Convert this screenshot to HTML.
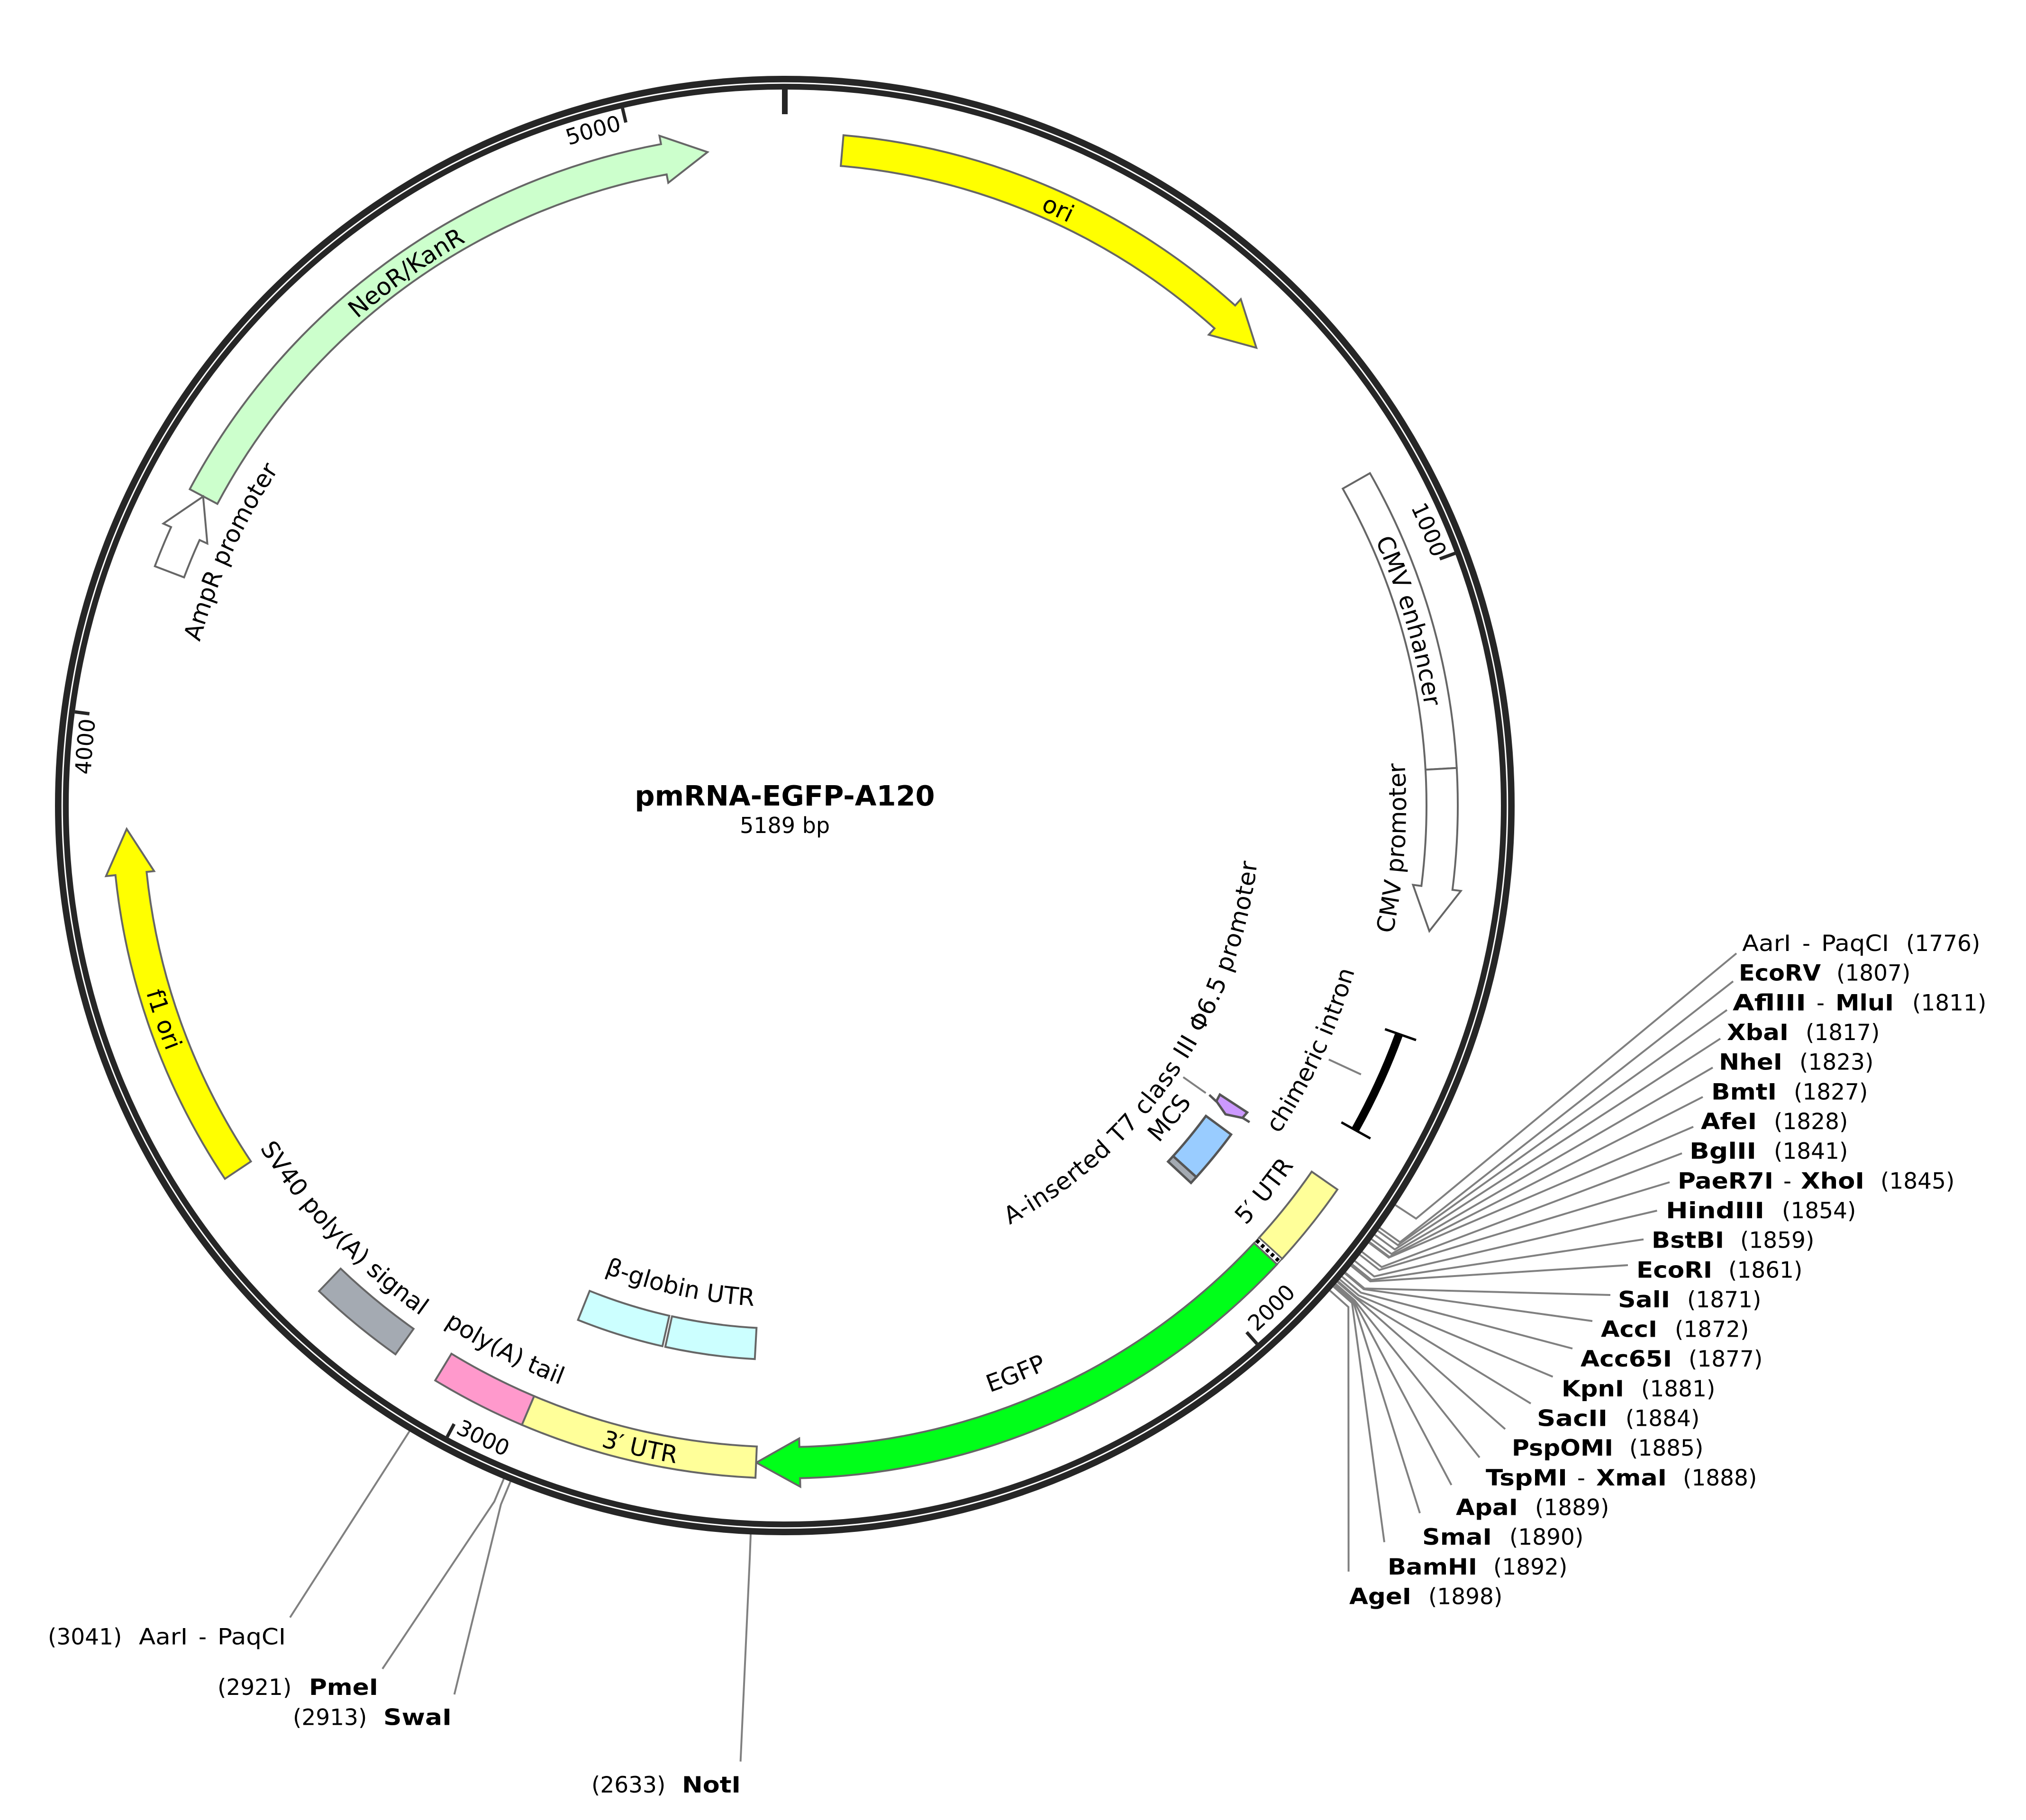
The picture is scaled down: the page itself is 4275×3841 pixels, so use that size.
<!DOCTYPE html>
<html><head><meta charset="utf-8"><title>pmRNA-EGFP-A120</title>
<style>html,body{margin:0;padding:0;background:#fff}svg{display:block}
text{font-family:"DejaVu Sans","Liberation Sans",sans-serif;font-size:47px;fill:#000}
.b{font-weight:bold}
.f{stroke:#666;stroke-width:4;stroke-linejoin:miter}
.g{stroke:#555;stroke-width:5}
.l{fill:none;stroke:#808080;stroke-width:4}
.t{stroke:#262626;stroke-width:7}
.c{text-anchor:middle;font-size:50.5px}
.n{font-size:46px}
</style></head><body>
<svg xmlns="http://www.w3.org/2000/svg" width="4275" height="3841" viewBox="0 0 4275 3841">
<defs>
<path id="w1368" d="M1656,332A1368,1368 0 1 1 1656,3068A1368,1368 0 1 1 1656,332"/>
<path id="w1367" d="M1656,333A1367,1367 0 1 1 1656,3067A1367,1367 0 1 1 1656,333"/>
<path id="w1366" d="M1656,334A1366,1366 0 1 1 1656,3066A1366,1366 0 1 1 1656,334"/>
<path id="w1282" d="M1656,418A1282,1282 0 1 1 1656,2982A1282,1282 0 1 1 1656,418"/>
<path id="w1463" d="M1656,237A1463,1463 0 1 1 1656,3163A1463,1463 0 1 1 1656,237"/>
<path id="w1466" d="M1656,234A1466,1466 0 1 1 1656,3166A1466,1466 0 1 1 1656,234"/>
<path id="c1311" d="M1656,389A1311,1311 0 1 0 1656,3011A1311,1311 0 1 0 1656,389"/>
<path id="c1004" d="M1656,696A1004,1004 0 1 0 1656,2704A1004,1004 0 1 0 1656,696"/>
<path id="c1252" d="M1656,448A1252,1252 0 1 0 1656,2952A1252,1252 0 1 0 1656,448"/>
<path id="c1063" d="M1656,637A1063,1063 0 1 0 1656,2763A1063,1063 0 1 0 1656,637"/>
<path id="c1316" d="M1656,384A1316,1316 0 1 0 1656,3016A1316,1316 0 1 0 1656,384"/>
<path id="c1492" d="M1656,208A1492,1492 0 1 0 1656,3192A1492,1492 0 1 0 1656,208"/>
<path id="c1312" d="M1656,388A1312,1312 0 1 0 1656,3012A1312,1312 0 1 0 1656,388"/>
<path id="c1407" d="M1656,293A1407,1407 0 1 0 1656,3107A1407,1407 0 1 0 1656,293"/>
<path id="c1058" d="M1656,642A1058,1058 0 1 0 1656,2758A1058,1058 0 1 0 1656,642"/>
<path id="c1495" d="M1656,205A1495,1495 0 1 0 1656,3195A1495,1495 0 1 0 1656,205"/>
<path id="c1404" d="M1656,296A1404,1404 0 1 0 1656,3104A1404,1404 0 1 0 1656,296"/>
<path id="c1323" d="M1656,377A1323,1323 0 1 0 1656,3023A1323,1323 0 1 0 1656,377"/>
</defs>
<rect width="4275" height="3841" fill="#fff"/>

<!-- leader lines -->
<polyline class="l" points="2944.5,2543.3 2988,2571.8 3664,2012"/>
<polyline class="l" points="2911.7,2591.5 2954.1,2621.6 3657,2071"/>
<polyline class="l" points="2907.4,2597.5 2949.7,2627.8 3644,2131.5"/>
<polyline class="l" points="2901.1,2606.3 2943.1,2636.9 3630,2192"/>
<polyline class="l" points="2894.3,2615.5 2936.1,2646.4 3614,2253"/>
<polyline class="l" points="2890,2621.4 2931.7,2652.5 3593,2315"/>
<polyline class="l" points="2888.8,2622.9 2930.4,2654.1 3573,2378"/>
<polyline class="l" points="2874.1,2642.2 2915.3,2674 3549,2434"/>
<polyline class="l" points="2869.5,2648.2 2910.5,2680.2 3523,2495"/>
<polyline class="l" points="2859,2661.4 2899.7,2693.9 3496.5,2555"/>
<polyline class="l" points="2853.4,2668.5 2893.8,2701.2 3468,2615.6"/>
<polyline class="l" points="2851,2671.4 2891.4,2704.2 3435,2670"/>
<polyline class="l" points="2839,2685.9 2879,2719.2 3398,2733"/>
<polyline class="l" points="2837.8,2687.4 2877.7,2720.8 3360,2788"/>
<polyline class="l" points="2831.9,2694.4 2871.7,2728 3318,2846"/>
<polyline class="l" points="2827,2700.1 2866.6,2733.8 3276.5,2905.5"/>
<polyline class="l" points="2823.5,2704.2 2862.9,2738.1 3230,2962"/>
<polyline class="l" points="2822.2,2705.8 2861.6,2739.7 3176,3016"/>
<polyline class="l" points="2818.7,2709.8 2858,2743.9 3122,3076"/>
<polyline class="l" points="2817.5,2711.2 2856.7,2745.3 3062.6,3134"/>
<polyline class="l" points="2816.2,2712.7 2855.4,2746.9 2996,3193.4"/>
<polyline class="l" points="2813.8,2715.5 2852.9,2749.8 2921,3254.6"/>
<polyline class="l" points="2806.4,2723.8 2845.2,2758.4 2845.6,3316.8"/>
<polyline class="l" points="864,3020.6 612,3413.6"/>
<polyline class="l" points="1063,3121 1043,3169 807,3522"/>
<polyline class="l" points="1077,3127 1057,3175 958.7,3576"/>
<polyline class="l" points="1584,3238 1582,3290 1562.6,3717.6"/>
<line class="l" x1="2803.8" y1="2236" x2="2871.8" y2="2267.5"/>
<line class="l" x1="2496.7" y1="2273.3" x2="2544.3" y2="2306.7"/>

<!-- backbone -->
<circle cx="1656" cy="1700" r="1525.5" fill="none" stroke="#262626" stroke-width="29"/>
<circle cx="1656" cy="1700" r="1524.8" fill="none" stroke="#fff" stroke-width="3"/>
<line x1="1656" y1="187" x2="1656" y2="241" stroke="#262626" stroke-width="12"/>
<line class="t" x1="3070.2" y1="1167.7" x2="3038" y2="1179.5"/>
<line class="t" x1="2652.3" y1="2836" x2="2630.5" y2="2811.5"/>
<line class="t" x1="943.6" y1="3032.5" x2="958.2" y2="3005.2"/>
<line class="t" x1="158" y1="1502.4" x2="188.7" y2="1506.4"/>
<line class="t" x1="1313.5" y1="228.3" x2="1320.6" y2="258.5"/>

<!-- features -->
<path class="f" fill="#ffff00" d="M1779.8,285.4A1420,1420 0 0 1 2606.2,644.7L2618.2,631.4L2651,734L2550.6,706.4L2562.7,693A1355,1355 0 0 0 1774.1,350.2Z"/>
<path class="f" fill="#ccffcc" d="M400.4,1032.4A1422,1422 0 0 1 1394.8,304.2L1391.5,286.5L1493,321L1410.1,385.8L1406.7,368.1A1355,1355 0 0 0 458.7,1063.4Z"/>
<path class="f" fill="#fff" d="M326.7,1195A1422,1422 0 0 1 361,1112.4L344.6,1105L428.6,1047.8L437.5,1147.1L421.1,1139.7A1356,1356 0 0 0 388.4,1218.5Z"/>
<path class="f" fill="#fff" d="M2890.7,998.6A1420,1420 0 0 1 3073.8,1620.7L3007.9,1624.4A1354,1354 0 0 0 2833.3,1031.2Z"/>
<path class="f" fill="#fff" d="M3073.8,1620.7A1420,1420 0 0 1 3064.8,1878L3082.6,1880.2L3016,1965L2981.5,1867.4L2999.3,1869.7A1354,1354 0 0 0 3007.9,1624.4Z"/>
<path class="f" fill="#ffff99" d="M2822,2510.4A1420,1420 0 0 1 2705.4,2656.6L2656.7,2612.1A1354,1354 0 0 0 2767.8,2472.7Z"/>
<path fill="#fff" stroke="#666" stroke-width="3" d="M2705.4,2656.6L2694.5,2668.4L2646.2,2623.4L2656.7,2612.1Z"/>
<line x1="2651.5" y1="2617.8" x2="2700" y2="2662.5" stroke="#000" stroke-width="8" stroke-dasharray="7 7"/>
<path class="f" fill="#00ff19" d="M2694.5,2668.4A1420,1420 0 0 1 1688.2,3119.6L1688.6,3137.6L1596,3086.7L1686.3,3035.7L1686.7,3053.6A1354,1354 0 0 0 2646.2,2623.4Z"/>
<path class="f" fill="#ffff99" d="M1594.1,3118.7A1420,1420 0 0 1 1101.2,3007.1L1127,2946.4A1354,1354 0 0 0 1596.9,3052.7Z"/>
<path class="f" fill="#ff99cc" d="M1101.2,3007.1A1420,1420 0 0 1 918.3,2913.3L952.6,2856.9A1354,1354 0 0 0 1127,2946.4Z"/>
<path class="f" fill="#a4aab2" d="M834.5,2858.2A1420,1420 0 0 1 673.2,2724.9L718.8,2677.3A1354,1354 0 0 0 872.7,2804.4Z"/>
<path class="f" fill="#ffff00" d="M474.6,2487.9A1420,1420 0 0 1 243.6,1847L223.7,1849L267.3,1749.4L325.2,1838.5L309.3,1840.1A1354,1354 0 0 0 529.5,2451.2Z"/>
<path class="f" fill="#ccffff" d="M1592.7,2868.3A1170,1170 0 0 1 1403.8,2842.5L1418,2778A1104,1104 0 0 0 1596.3,2802.4Z"/>
<path class="f" fill="#ccffff" d="M1397.8,2841.1A1170,1170 0 0 1 1219.6,2785.6L1244.2,2724.3A1104,1104 0 0 0 1412.3,2776.8Z"/>
<path class="g" fill="#a4aab2" d="M2524.4,2484.1L2513.1,2496.4L2464.7,2451.5L2475.4,2439.9Z"/>
<path class="g" fill="#99ccff" d="M2597.7,2394.3A1170,1170 0 0 1 2524.4,2484.1L2475.4,2439.9A1104,1104 0 0 0 2544.6,2355.1Z"/>
<polygon class="g" fill="#cc99ff" points="2574,2310 2631.7,2347.7 2621.7,2359.3 2586,2351.7 2566.7,2324"/>
<line x1="2551.7" y1="2310.7" x2="2567" y2="2325" stroke="#555" stroke-width="5"/>
<line x1="2621" y1="2358.5" x2="2636.7" y2="2368.3" stroke="#555" stroke-width="5"/>
<path d="M2951.4,2184.6A1384,1384 0 0 1 2860,2383.6" fill="none" stroke="#000" stroke-width="17"/>
<line x1="2922.4" y1="2172" x2="2988" y2="2195" stroke="#000" stroke-width="5"/>
<line x1="2830.4" y1="2368.6" x2="2891.7" y2="2402.7" stroke="#000" stroke-width="5"/>

<!-- curved labels -->
<text class="c"><textPath href="#w1368" startOffset="6.833%">ori</textPath></text>
<text class="c"><textPath href="#w1367" startOffset="90.17%">NeoR/KanR</textPath></text>
<text class="c"><textPath href="#w1366" startOffset="20.42%">CMV enhancer</textPath></text>
<text class="c"><textPath href="#w1282" startOffset="81.83%">AmpR promoter</textPath></text>
<text class="c n"><textPath href="#w1463" startOffset="18.56%">1000</textPath></text>
<text class="c n"><textPath href="#w1466" startOffset="95.6%">5000</textPath></text>
<text class="c n"><textPath href="#w1466" startOffset="76.34%">4000</textPath></text>
<text class="c"><textPath href="#c1311" startOffset="73.89%">CMV promoter</textPath></text>
<text class="c" style="letter-spacing:1px"><textPath href="#c1004" startOffset="65.47%">A-inserted T7 class III Φ6.5 promoter</textPath></text>
<text class="c"><textPath href="#c1252" startOffset="68.08%">chimeric intron</textPath></text>
<text class="c"><textPath href="#c1063" startOffset="64.14%">MCS</textPath></text>
<text class="c"><textPath href="#c1316" startOffset="64.22%">5′ UTR</textPath></text>
<text class="c n"><textPath href="#c1492" startOffset="62.25%">2000</textPath></text>
<text class="c"><textPath href="#c1312" startOffset="56.14%">EGFP</textPath></text>
<text class="c"><textPath href="#c1407" startOffset="46.47%">3′ UTR</textPath></text>
<text class="c"><textPath href="#c1311" startOffset="42.44%">poly(A) tail</textPath></text>
<text class="c"><textPath href="#c1058" startOffset="46.58%">β-globin UTR</textPath></text>
<text class="c n"><textPath href="#c1495" startOffset="42.92%">3000</textPath></text>
<text class="c"><textPath href="#c1404" startOffset="30.28%">f1 ori</textPath></text>
<text class="c"><textPath href="#c1323" startOffset="37.17%">SV40 poly(A) signal</textPath></text>

<!-- title -->
<text x="1656" y="1700" class="c b" style="font-size:59px">pmRNA-EGFP-A120</text>
<text x="1656" y="1758" class="c" style="font-size:46px">5189 bp</text>

<!-- site labels right -->
<text x="3676" y="2007" textLength="103" lengthAdjust="spacingAndGlyphs">AarI</text><text x="3803" y="2007">-</text><text x="3843" y="2007" textLength="143" lengthAdjust="spacingAndGlyphs">PaqCI</text><text x="4022" y="2007">(1776)</text>
<text x="3669" y="2069.7" class="b" textLength="173" lengthAdjust="spacingAndGlyphs">EcoRV</text><text x="3875" y="2069.7">(1807)</text>
<text x="3656" y="2132.3" class="b" textLength="155" lengthAdjust="spacingAndGlyphs">AflIII</text><text x="3833" y="2132.3">-</text><text x="3873" y="2132.3" class="b" textLength="123" lengthAdjust="spacingAndGlyphs">MluI</text><text x="4035" y="2132.3">(1811)</text>
<text x="3644" y="2195" class="b" textLength="130" lengthAdjust="spacingAndGlyphs">XbaI</text><text x="3810" y="2195">(1817)</text>
<text x="3627" y="2257.6" class="b" textLength="134" lengthAdjust="spacingAndGlyphs">NheI</text><text x="3797" y="2257.6">(1823)</text>
<text x="3611" y="2320.3" class="b" textLength="138" lengthAdjust="spacingAndGlyphs">BmtI</text><text x="3785" y="2320.3">(1827)</text>
<text x="3589" y="2383" class="b" textLength="118" lengthAdjust="spacingAndGlyphs">AfeI</text><text x="3743" y="2383">(1828)</text>
<text x="3565" y="2445.6" class="b" textLength="141" lengthAdjust="spacingAndGlyphs">BglII</text><text x="3743" y="2445.6">(1841)</text>
<text x="3540" y="2508.3" class="b" textLength="202" lengthAdjust="spacingAndGlyphs">PaeR7I</text><text x="3763" y="2508.3">-</text><text x="3800" y="2508.3" class="b" textLength="134" lengthAdjust="spacingAndGlyphs">XhoI</text><text x="3968" y="2508.3">(1845)</text>
<text x="3515" y="2570.9" class="b" textLength="208" lengthAdjust="spacingAndGlyphs">HindIII</text><text x="3760" y="2570.9">(1854)</text>
<text x="3485" y="2633.6" class="b" textLength="153" lengthAdjust="spacingAndGlyphs">BstBI</text><text x="3672" y="2633.6">(1859)</text>
<text x="3453" y="2696.3" class="b" textLength="160" lengthAdjust="spacingAndGlyphs">EcoRI</text><text x="3647" y="2696.3">(1861)</text>
<text x="3414" y="2758.9" class="b" textLength="110" lengthAdjust="spacingAndGlyphs">SalI</text><text x="3560" y="2758.9">(1871)</text>
<text x="3378" y="2821.6" class="b" textLength="119" lengthAdjust="spacingAndGlyphs">AccI</text><text x="3534" y="2821.6">(1872)</text>
<text x="3335" y="2884.2" class="b" textLength="193" lengthAdjust="spacingAndGlyphs">Acc65I</text><text x="3563" y="2884.2">(1877)</text>
<text x="3295" y="2946.9" class="b" textLength="132" lengthAdjust="spacingAndGlyphs">KpnI</text><text x="3463" y="2946.9">(1881)</text>
<text x="3243" y="3009.6" class="b" textLength="149" lengthAdjust="spacingAndGlyphs">SacII</text><text x="3430" y="3009.6">(1884)</text>
<text x="3190" y="3072.2" class="b" textLength="214" lengthAdjust="spacingAndGlyphs">PspOMI</text><text x="3438" y="3072.2">(1885)</text>
<text x="3135" y="3134.9" class="b" textLength="172" lengthAdjust="spacingAndGlyphs">TspMI</text><text x="3328" y="3134.9">-</text><text x="3368" y="3134.9" class="b" textLength="149" lengthAdjust="spacingAndGlyphs">XmaI</text><text x="3551" y="3134.9">(1888)</text>
<text x="3072" y="3197.5" class="b" textLength="131" lengthAdjust="spacingAndGlyphs">ApaI</text><text x="3239" y="3197.5">(1889)</text>
<text x="3001" y="3260.2" class="b" textLength="147" lengthAdjust="spacingAndGlyphs">SmaI</text><text x="3185" y="3260.2">(1890)</text>
<text x="2928" y="3322.9" class="b" textLength="189" lengthAdjust="spacingAndGlyphs">BamHI</text><text x="3151" y="3322.9">(1892)</text>
<text x="2847" y="3385.5" class="b" textLength="131" lengthAdjust="spacingAndGlyphs">AgeI</text><text x="3014" y="3385.5">(1898)</text>

<!-- site labels left -->
<text x="101" y="3470.6">(3041)</text><text x="293" y="3470.6" textLength="103" lengthAdjust="spacingAndGlyphs">AarI</text><text x="419" y="3470.6">-</text><text x="459" y="3470.6" textLength="144" lengthAdjust="spacingAndGlyphs">PaqCI</text>
<text x="459" y="3577">(2921)</text><text x="652" y="3577" class="b" textLength="146" lengthAdjust="spacingAndGlyphs">PmeI</text>
<text x="618" y="3640.7">(2913)</text><text x="809" y="3640.7" class="b" textLength="144" lengthAdjust="spacingAndGlyphs">SwaI</text>
<text x="1248" y="3783">(2633)</text><text x="1439" y="3783" class="b" textLength="124" lengthAdjust="spacingAndGlyphs">NotI</text>
</svg>
</body></html>
